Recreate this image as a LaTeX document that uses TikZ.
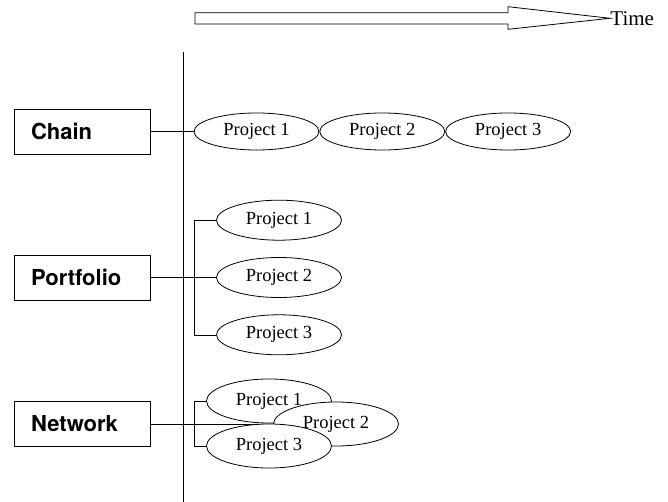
\documentclass[tikz,border=0pt]{standalone}
\usepackage{fontspec}
\setmainfont{Liberation Serif}
\newfontfamily\kindfont{TeX Gyre Heros}
\usetikzlibrary{positioning,shapes.geometric,backgrounds}

\begin{document}
\begin{tikzpicture}[
  x=1pt, y=-1pt,
  line width=0.8pt,
  kind/.style={draw, rectangle, minimum height=45pt, text width=102pt,
               inner xsep=17pt, inner ysep=0pt, align=left,
               font=\kindfont\bfseries\fontsize{22}{24}\selectfont},
  proj/.style={draw, ellipse, fill=white, minimum width=125pt,
               minimum height=40pt, inner sep=0pt,
               font=\fontsize{18.5}{20}\selectfont}
]
\useasboundingbox (0,0) rectangle (668,502);

% time arrow
\coordinate (tip) at (610,18.3);
\draw (195,12.7) -- (508,12.7) -- (508,6.7) -- (tip) -- (508,29.3)
  -- (508,24) -- (195,24) -- cycle;
\node[anchor=west, inner sep=0pt, font=\fontsize{21}{24}\selectfont]
  (time) at (tip) {Time};

% axis
\coordinate (axtop) at (183.5,51.7);
\coordinate (axbot) at (183.5,502);
\draw (axtop) -- (axbot);

% chain
\node[kind] (chain) at (82,131.5) {Chain};
\node[proj, minimum height=37pt] (c1) at (256.5,131.5) {Project 1};
\node[proj, minimum height=37pt, right=0pt of c1] (c2) {Project 2};
\node[proj, minimum height=37pt, right=0pt of c2] (c3) {Project 3};

% portfolio
\node[kind] (port) at (82,277.5) {Portfolio};
\node[proj] (p2) at (279,277.5) {Project 2};
\node[proj, above=16.5pt of p2] (p1) {Project 1};
\node[proj, below=16.5pt of p2] (p3) {Project 3};

% network
\node[kind] (net) at (82,424) {Network};
\node[proj, minimum height=44pt] (n1) at (269,401) {Project 1};
\node[proj, minimum height=44pt] (n2) at (336,424) {Project 2};
\node[proj, minimum height=44pt] (n3) at (269,446) {Project 3};

\begin{scope}[on background layer]
\draw (chain.east) -- (c1.west);
\draw (port.east) -- (p2.west);
\draw (p1.west) -- ++(-21.7,0) |- (p3.west);
\draw (net.east) -- (n2.west);
\draw (n1.west) -- ++(-11.5,0) |- (n3.west);
\end{scope}
\end{tikzpicture}
\end{document}
